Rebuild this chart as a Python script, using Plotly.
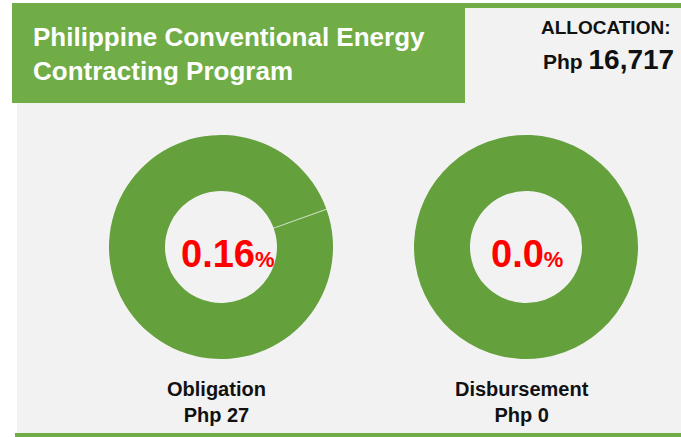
import plotly.graph_objects as go

W, H = 681, 437

title_lines = ["Philippine Conventional Energy", "Contracting Program"]
allocation = 16717
categories = ["Obligation", "Disbursement"]
amounts = [27, 0]
pct_labels = ["0.16", "0.0"]

GREEN = "#70ad47"
RING = "#64a03c"
GRAY = "#f2f2f2"
FONT = "Liberation Sans Narrow, Arial Narrow, Liberation Sans, Arial, sans-serif"

def px(x):
    return x / W

def py(y):
    return 1 - y / H

fig = go.Figure()

centers = [(221, 247), (526, 247)]
label_dx = [7, 1]
R = 112
for i, (cat, amt) in enumerate(zip(categories, amounts)):
    cx, cy = centers[i]
    fig.add_trace(go.Pie(
        values=[amt, allocation - amt],
        labels=[cat, "Remaining"],
        hole=0.5,
        sort=False,
        direction="clockwise",
        rotation=70,
        textinfo="none",
        hoverinfo="label+value",
        showlegend=False,
        marker=dict(colors=[RING, RING],
                    line=dict(color=["rgba(255,255,255,0.7)", "rgba(0,0,0,0)"], width=[1, 0])),
        domain=dict(x=[px(cx - R), px(cx + R)], y=[py(cy + R), py(cy - R)]),
    ))
    fig.add_annotation(
        x=px(cx + label_dx[i]), y=py(cy + 7), xref="paper", yref="paper",
        text=f"<b>{pct_labels[i]}</b><span style='font-size:22px'><b>%</b></span>",
        showarrow=False, font=dict(family=FONT, size=38, color="#ff0000"),
        xanchor="center", yanchor="middle",
    )
    fig.add_annotation(
        x=px(cx - 4), y=py(402), xref="paper", yref="paper",
        text=f"<b>{cat}</b><br><b>Php {amt:,}</b>",
        showarrow=False, font=dict(family=FONT, size=20, color="#111111"),
        xanchor="center", yanchor="middle",
    )

shapes = [
    dict(type="rect", x0=px(17), x1=px(W), y0=py(434), y1=py(8), fillcolor=GRAY, line=dict(width=0), layer="below"),
    dict(type="rect", x0=px(12), x1=px(W), y0=py(8), y1=py(3), fillcolor=GREEN, line=dict(width=0), layer="below"),
    dict(type="rect", x0=px(12), x1=px(465), y0=py(103), y1=py(3), fillcolor=GREEN, line=dict(width=0), layer="below"),
    dict(type="rect", x0=px(15), x1=px(W), y0=py(437), y1=py(433), fillcolor=GREEN, line=dict(width=0), layer="below"),
]

fig.add_annotation(
    x=px(31), y=py(54), xref="paper", yref="paper",
    text=f"<b>{title_lines[0]}</b><br><b>{title_lines[1]}</b>",
    showarrow=False, align="left", xanchor="left", yanchor="middle",
    font=dict(family=FONT, size=26, color="white"),
)
fig.add_annotation(
    x=px(539), y=py(27), xref="paper", yref="paper",
    text="<b>ALLOCATION:</b>",
    showarrow=False, align="left", xanchor="left", yanchor="middle",
    font=dict(family=FONT, size=19, color="#111111"),
)
fig.add_annotation(
    x=px(541), y=py(59), xref="paper", yref="paper",
    text=f"<b>Php </b><span style='font-size:28px'><b>{allocation:,}</b></span>",
    showarrow=False, align="left", xanchor="left", yanchor="middle",
    font=dict(family=FONT, size=21, color="#111111"),
)

fig.update_layout(
    width=W, height=H,
    margin=dict(l=0, r=0, t=0, b=0),
    paper_bgcolor="white", plot_bgcolor="white",
    shapes=shapes,
)

fig.write_html("out.html", config={"displayModeBar": False},
               post_script="document.body.style.margin='0';")
